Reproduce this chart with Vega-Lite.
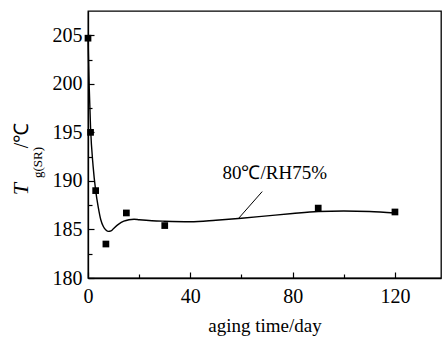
{
  "$schema": "https://vega.github.io/schema/vega-lite/v6.json",
  "width": 353,
  "height": 267,
  "autosize": "none",
  "padding": {"left": 88, "top": 11, "right": 2, "bottom": 60},
  "background": "white",
  "config": {
    "view": {"stroke": "black", "strokeWidth": 1.3},
    "font": "Liberation Serif, Times New Roman, Times, serif",
    "axis": {
      "domainColor": "black",
      "domainWidth": 1.3,
      "tickColor": "black",
      "tickWidth": 1.2,
      "labelColor": "black",
      "titleColor": "black",
      "labelFont": "Liberation Serif, Times New Roman, Times, serif",
      "titleFont": "Liberation Serif, Times New Roman, Times, serif",
      "labelFontSize": 20,
      "grid": false
    }
  },
  "datasets": {
    "points": [
      {"day": 0, "tg": 204.7},
      {"day": 1, "tg": 195.0},
      {"day": 3, "tg": 189.0},
      {"day": 7, "tg": 183.5},
      {"day": 15, "tg": 186.7},
      {"day": 30, "tg": 185.4},
      {"day": 90, "tg": 187.2},
      {"day": 120, "tg": 186.8}
    ],
    "curve": [
      {"day": 0, "tg": 205.0},
      {"day": 0.5, "tg": 199.5},
      {"day": 1, "tg": 195.5},
      {"day": 2, "tg": 191.5},
      {"day": 3, "tg": 189.0},
      {"day": 4, "tg": 187.3},
      {"day": 5, "tg": 186.0},
      {"day": 6, "tg": 185.3},
      {"day": 7, "tg": 184.95},
      {"day": 8, "tg": 184.8},
      {"day": 9, "tg": 184.85},
      {"day": 10, "tg": 185.1},
      {"day": 12, "tg": 185.55},
      {"day": 14, "tg": 185.85},
      {"day": 16, "tg": 186.0},
      {"day": 18, "tg": 186.05},
      {"day": 20, "tg": 186.0},
      {"day": 25, "tg": 185.9},
      {"day": 30, "tg": 185.85},
      {"day": 40, "tg": 185.8},
      {"day": 50, "tg": 185.95},
      {"day": 60, "tg": 186.15},
      {"day": 70, "tg": 186.4},
      {"day": 80, "tg": 186.65},
      {"day": 90, "tg": 186.85},
      {"day": 100, "tg": 186.9},
      {"day": 110, "tg": 186.85},
      {"day": 120, "tg": 186.7}
    ],
    "leader": [
      {"x1": 68.1, "y1": 188.9, "x2": 58.9, "y2": 186.15}
    ],
    "label": [
      {"day": 73, "tg": 190.8, "text": "80℃/RH75%"}
    ]
  },
  "layer": [
    {
      "data": {"name": "points"},
      "mark": {"type": "square", "size": 45, "color": "black", "opacity": 1},
      "encoding": {
        "x": {
          "field": "day",
          "type": "quantitative",
          "scale": {"domain": [0, 138], "nice": false, "zero": false},
          "axis": {
            "title": "aging time/day",
            "titleFontSize": 19,
            "titleFontWeight": "normal",
            "titlePadding": 8,
            "values": [0, 10, 20, 30, 40, 50, 60, 70, 80, 90, 100, 110, 120, 130],
            "labelExpr": "datum.value % 40 === 0 ? datum.label : ''",
            "tickSize": {"condition": {"test": "datum.value % 40 === 0", "value": -6}, "value": -4},
            "labelPadding": 14,
            "labelFlush": false,
            "labelOverlap": false
          }
        },
        "y": {
          "field": "tg",
          "type": "quantitative",
          "scale": {"domain": [180, 207.5], "nice": false, "zero": false},
          "axis": {
            "orient": "left",
            "values": [180, 182.5, 185, 187.5, 190, 192.5, 195, 197.5, 200, 202.5, 205],
            "labelExpr": "datum.value % 5 === 0 ? datum.label : ''",
            "tickSize": {"condition": {"test": "datum.value % 5 === 0", "value": -6}, "value": -4},
            "labelPadding": 12,
            "labelOverlap": false,
            "labelFlush": false,
            "title": "T",
            "titleFontStyle": "italic",
            "titleFontWeight": "normal",
            "titleFontSize": 22,
            "titleAngle": 270,
            "titleAlign": "center",
            "titleBaseline": "alphabetic",
            "titleX": -61,
            "titleY": 177.5
          }
        }
      }
    },
    {
      "data": {"name": "curve"},
      "mark": {"type": "line", "color": "black", "strokeWidth": 1.4, "interpolate": "monotone"},
      "encoding": {
        "x": {"field": "day", "type": "quantitative"},
        "y": {
          "field": "tg",
          "type": "quantitative",
          "axis": {
            "orient": "left",
            "labels": false,
            "ticks": false,
            "domain": false,
            "title": "g(SR)",
            "titleFontWeight": "normal",
            "titleFontSize": 13,
            "titleAngle": 270,
            "titleAlign": "center",
            "titleBaseline": "alphabetic",
            "titleX": -46.4,
            "titleY": 151
          }
        }
      }
    },
    {
      "data": {"name": "leader"},
      "mark": {"type": "rule", "color": "black", "strokeWidth": 1},
      "encoding": {
        "x": {"field": "x1", "type": "quantitative"},
        "y": {
          "field": "y1",
          "type": "quantitative",
          "axis": {
            "orient": "left",
            "labels": false,
            "ticks": false,
            "domain": false,
            "title": "/℃",
            "titleFontWeight": "normal",
            "titleFontSize": 20,
            "titleAngle": 270,
            "titleAlign": "center",
            "titleBaseline": "alphabetic",
            "titleX": -61,
            "titleY": 124
          }
        },
        "x2": {"field": "x2"},
        "y2": {"field": "y2"}
      }
    },
    {
      "data": {"name": "label"},
      "mark": {"type": "text", "font": "Liberation Serif, Times New Roman, Times, serif", "fontSize": 19, "color": "black", "align": "center", "baseline": "middle"},
      "encoding": {
        "x": {"field": "day", "type": "quantitative"},
        "y": {"field": "tg", "type": "quantitative", "axis": null},
        "text": {"field": "text"}
      }
    }
  ],
  "resolve": {"axis": {"y": "independent"}}
}
